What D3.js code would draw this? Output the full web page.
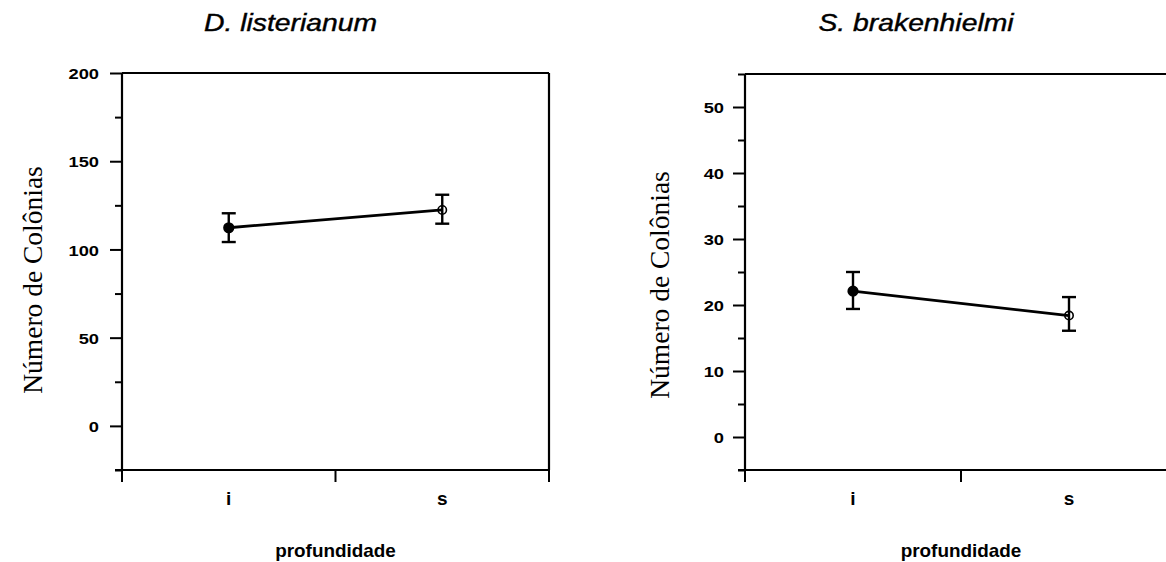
<!DOCTYPE html>
<html>
<head>
<meta charset="utf-8">
<script src="https://cdn.jsdelivr.net/npm/d3@7"></script>
<style>
  html, body { margin: 0; padding: 0; background: #fff; }
  svg { display: block; }
</style>
</head>
<body>
<svg id="chart" width="1166" height="562"></svg>
<script>
// ---- data ----
const categories = ["i", "s"];
const xTitle = "profundidade";
const yTitle = "Número de Colônias";

const dlTitle = "D. listerianum";
const dlMeans = [112.3, 122.4];
const dlLow   = [104.2, 114.6];
const dlHigh  = [120.5, 131.0];
const dlDomain = [-25, 200];
const dlMajorTicks = [0, 50, 100, 150, 200];
const dlMinorTicks = [-25, 25, 75, 125, 175];

const sbTitle = "S. brakenhielmi";
const sbMeans = [22.1, 18.4];
const sbLow   = [19.4, 16.1];
const sbHigh  = [25.0, 21.2];
const sbDomain = [-5, 55];
const sbMajorTicks = [0, 10, 20, 30, 40, 50];
const sbMinorTicks = [-5, 5, 15, 25, 35, 45, 55];

const svg = d3.select("#chart");
const SX = 1.18; // horizontal stretch of glyphs seen in the reference

function panel(opts) {
  const {left, right, top, bottom, title, means, low, high, domain, major, minor,
         labelGap, yTitleX, yTitleY, drawRight} = opts;
  const g = svg.append("g");
  const x = d3.scaleBand().domain(categories).range([left, right]).padding(0);
  const y = d3.scaleLinear().domain(domain).range([bottom, top]);

  // minor ticks
  g.append("g").attr("transform", `translate(${left},0)`)
    .call(d3.axisLeft(y).tickValues(minor).tickSize(7).tickFormat(""))
    .call(a => a.select(".domain").remove())
    .call(a => a.selectAll("line").attr("stroke", "#000").attr("stroke-width", 2));
  // major ticks
  const ya = g.append("g").attr("transform", `translate(${left},0)`)
    .call(d3.axisLeft(y).tickValues(major).tickSize(12).tickPadding(labelGap).tickFormat(d3.format("d")))
    .call(a => a.select(".domain").remove())
    .call(a => a.selectAll("line").attr("stroke", "#000").attr("stroke-width", 2));
  ya.selectAll("text")
    .attr("font-family", "Liberation Sans, Arial, sans-serif")
    .attr("font-size", 15.5).attr("font-weight", "bold").attr("fill", "#000")
    .attr("dy", "0.36em")
    .attr("transform", `scale(${SX},1)`)
    .attr("x", -(12 + labelGap) / SX);

  // x axis labels
  const xa = g.append("g").attr("transform", `translate(0,${bottom})`)
    .call(d3.axisBottom(x).tickSize(0).tickPadding(22))
    .call(a => a.select(".domain").remove());
  xa.selectAll("text")
    .attr("font-family", "Liberation Sans, Arial, sans-serif")
    .attr("font-size", 19).attr("font-weight", "bold").attr("fill", "#000");
  // x boundary ticks
  const bounds = categories.map(c => x(c)).concat([x(categories[categories.length - 1]) + x.bandwidth()]);
  g.selectAll(".xb").data(bounds).enter().append("line")
    .attr("x1", d => d).attr("x2", d => d)
    .attr("y1", bottom).attr("y2", bottom + 12)
    .attr("stroke", "#000").attr("stroke-width", 2);

  // frame
  const fr = g.append("g").attr("stroke", "#000").attr("stroke-width", 2.2).attr("fill", "none");
  fr.append("line").attr("x1", left).attr("x2", left).attr("y1", top).attr("y2", bottom);
  fr.append("line").attr("x1", left - 7).attr("x2", right).attr("y1", bottom).attr("y2", bottom);
  fr.append("line").attr("x1", left).attr("x2", right).attr("y1", top).attr("y2", top);
  if (drawRight) fr.append("line").attr("x1", right).attr("x2", right).attr("y1", top).attr("y2", bottom);

  // data
  const pts = categories.map((c, i) => ({c, m: means[i], lo: low[i], hi: high[i]}));
  const cx = d => x(d.c) + x.bandwidth() / 2;
  g.append("path").datum(pts)
    .attr("d", d3.line().x(cx).y(d => y(d.m)))
    .attr("fill", "none").attr("stroke", "#000").attr("stroke-width", 2.8);
  const eb = g.selectAll(".eb").data(pts).enter().append("g")
    .attr("stroke", "#000").attr("stroke-width", 2.4);
  eb.append("line").attr("x1", cx).attr("x2", cx).attr("y1", d => y(d.lo)).attr("y2", d => y(d.hi));
  eb.append("line").attr("x1", d => cx(d) - 7).attr("x2", d => cx(d) + 7).attr("y1", d => y(d.lo)).attr("y2", d => y(d.lo));
  eb.append("line").attr("x1", d => cx(d) - 7).attr("x2", d => cx(d) + 7).attr("y1", d => y(d.hi)).attr("y2", d => y(d.hi));
  // markers: filled for first, open for second
  g.selectAll(".mk").data(pts).enter().append("circle")
    .attr("cx", cx).attr("cy", d => y(d.m))
    .attr("r", (d, i) => i === 0 ? 4.8 : 4.2)
    .attr("fill", (d, i) => i === 0 ? "#000" : "none")
    .attr("stroke", "#000").attr("stroke-width", 1.6);

  // titles
  const mid = (left + right) / 2;
  g.append("g").attr("transform", `translate(${mid - 45},31) scale(${SX},1)`)
    .append("text").attr("text-anchor", "middle")
    .attr("font-family", "Liberation Sans, Arial, sans-serif")
    .attr("font-size", 24).attr("font-style", "italic").attr("fill", "#000")
    .attr("stroke", "#000").attr("stroke-width", 0.4)
    .text(title);
  g.append("g").attr("transform", `translate(${mid},557) scale(1.05,1)`)
    .append("text").attr("text-anchor", "middle")
    .attr("font-family", "Liberation Sans, Arial, sans-serif")
    .attr("font-size", 18).attr("font-weight", "bold").attr("fill", "#000")
    .text(xTitle);
  g.append("g").attr("transform", `translate(${yTitleX},${yTitleY}) rotate(-90)`)
    .append("text").attr("text-anchor", "middle")
    .attr("font-family", "Liberation Serif, Times New Roman, serif")
    .attr("font-size", 27.5).attr("fill", "#000")
    .text(yTitle);
}

panel({left: 122, right: 549, top: 73, bottom: 470, title: dlTitle,
  means: dlMeans, low: dlLow, high: dlHigh, domain: dlDomain,
  major: dlMajorTicks, minor: dlMinorTicks, labelGap: 11,
  yTitleX: 42, yTitleY: 280, drawRight: true});

panel({left: 745, right: 1177, top: 74, bottom: 470, title: sbTitle,
  means: sbMeans, low: sbLow, high: sbHigh, domain: sbDomain,
  major: sbMajorTicks, minor: sbMinorTicks, labelGap: 9,
  yTitleX: 669, yTitleY: 285, drawRight: false});
</script>
</body>
</html>
